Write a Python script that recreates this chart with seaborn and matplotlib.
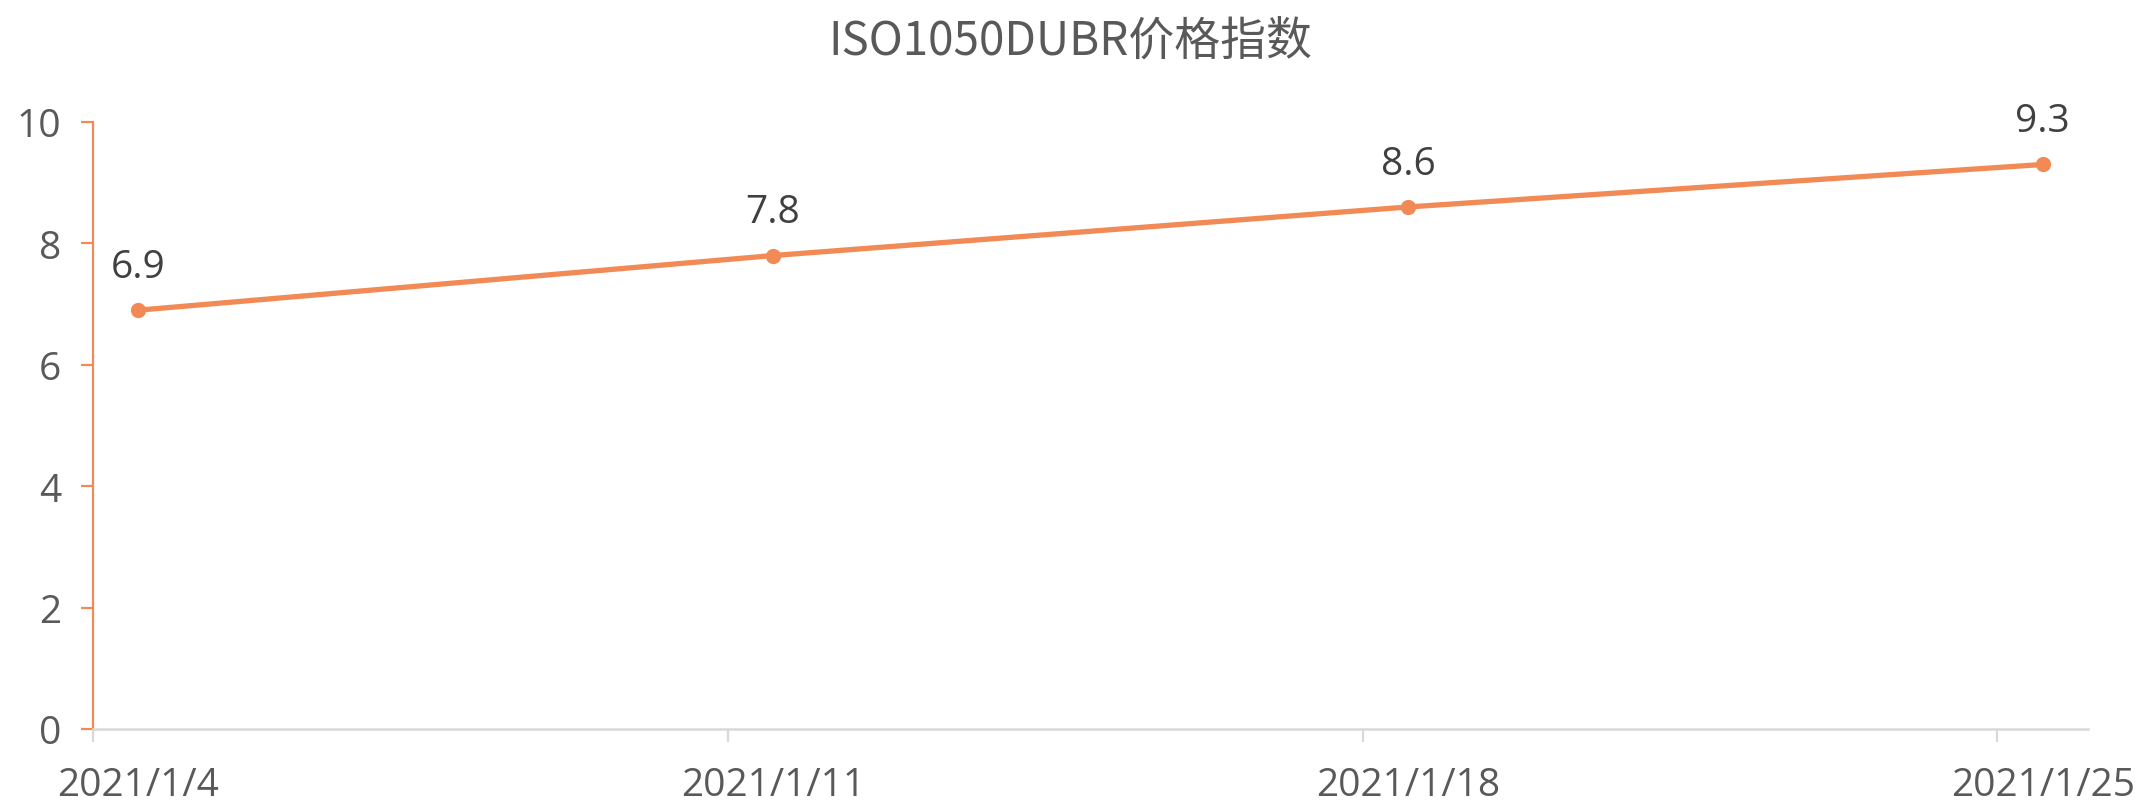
import matplotlib
matplotlib.use("Agg")
import matplotlib.pyplot as plt
import matplotlib.dates as mdates
from matplotlib.ticker import FixedLocator, FuncFormatter, NullFormatter
import seaborn as sns
import pandas as pd

# data
dates = ["2021-01-04", "2021-01-11", "2021-01-18", "2021-01-25"]
values = [6.9, 7.8, 8.6, 9.3]
title = "ISO1050DUBR价格指数"
y_ticks = [0, 2, 4, 6, 8, 10]

line_color = "#F28A55"
text_grey = "#595959"

sns.set_theme(style="white")
plt.rcParams['font.family'] = ['Open Sans', 'Noto Sans CJK SC', 'DejaVu Sans']

d = pd.to_datetime(dates)
# excel date axis: points sit in the middle of their day
x_mid = d + pd.Timedelta(hours=12)
df = pd.DataFrame({"date": x_mid, "value": values})

fig = plt.figure(figsize=(21.4, 8.03), dpi=100)
ax = fig.add_axes([93 / 2140, 1 - 730 / 803, (2088 - 93) / 2140, (730 - 123) / 803])

sns.lineplot(data=df, x="date", y="value", ax=ax, color=line_color, linewidth=3.8,
             marker="o", markersize=11, markeredgewidth=0, markerfacecolor=line_color)

for xv, yv in zip(df["date"], df["value"]):
    ax.annotate(f"{yv}", (xv, yv), xytext=(0, 24), textcoords="offset points",
                ha="center", va="baseline", fontsize=28, color="#404040")

ax.set_ylim(0, 10)
ax.set_yticks(y_ticks)
ax.set_xlim(mdates.date2num(d[0]), mdates.date2num(d[-1] + pd.Timedelta(days=1)))

ax.xaxis.set_major_locator(FixedLocator(mdates.date2num(d)))
ax.xaxis.set_major_formatter(NullFormatter())
ax.xaxis.set_minor_locator(FixedLocator(mdates.date2num(x_mid)))
ax.xaxis.set_minor_formatter(FuncFormatter(
    lambda v, p: (lambda t: f"{t.year}/{t.month}/{t.day}")(mdates.num2date(v))))

ax.set_xlabel("")
ax.set_ylabel("")
for s in ["top", "right"]:
    ax.spines[s].set_visible(False)
ax.spines["left"].set_color(line_color)
ax.spines["left"].set_linewidth(1.6)
ax.spines["bottom"].set_color("#D9D9D9")
ax.spines["bottom"].set_linewidth(1.8)

ax.tick_params(axis="y", which="major", direction="out", length=9, width=1.6,
               color=line_color, labelsize=28, labelcolor=text_grey, pad=14, left=True)
ax.tick_params(axis="x", which="major", direction="out", length=9, width=1.6,
               color="#D9D9D9", bottom=True)
ax.tick_params(axis="x", which="minor", length=0, labelsize=28, labelcolor=text_grey,
               pad=27, bottom=True)
ax.grid(False)

fig.text(0.5, 1 - 55 / 803, title, ha="center", va="baseline", fontsize=33,
         color=text_grey, family=['Noto Sans CJK SC', 'DejaVu Sans'])

fig.savefig("out.png", dpi=100, facecolor="white")
